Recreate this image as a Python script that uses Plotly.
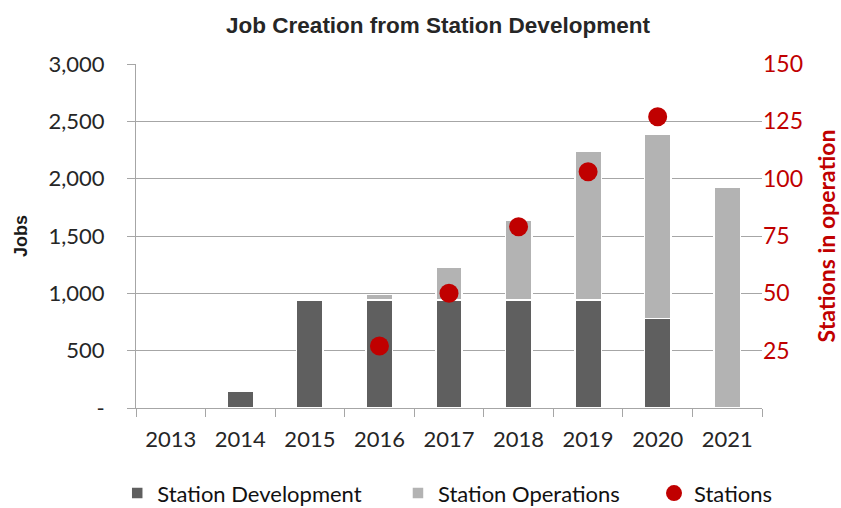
import plotly.graph_objects as go

years = ["2013", "2014", "2015", "2016", "2017", "2018", "2019", "2020", "2021"]
station_development = [0, 150, 940, 940, 940, 940, 940, 780, 0]
station_operations = [0, 0, 0, 50, 290, 700, 1295, 1605, 1925]
station_years = ["2016", "2017", "2018", "2019", "2020"]
stations = [27, 50, 79, 103, 127]

jobs_ticks = [0, 500, 1000, 1500, 2000, 2500, 3000]
jobs_tick_text = ["-", "500", "1,000", "1,500", "2,000", "2,500", "3,000"]
station_ticks = [25, 50, 75, 100, 125, 150]

DARK = "#5f5f5f"
LIGHT = "#b3b3b3"
RED = "#c00000"
GRID = "#a6a6a6"
TEXT = "#262626"
FONT = "Lato"

fig = go.Figure()
fig.add_trace(go.Bar(
    x=years, y=station_development, name="Station Development", legend="legend",
    marker=dict(color=DARK, line=dict(color="white", width=1.5)),
))
fig.add_trace(go.Bar(
    x=years, y=station_operations, name="Station Operations", legend="legend2",
    marker=dict(color=LIGHT, line=dict(color="white", width=1.5)),
))
fig.add_trace(go.Scatter(
    x=station_years, y=stations, name="Stations", yaxis="y2", legend="legend3",
    mode="markers", marker=dict(color=RED, size=19),
))

legend_common = dict(
    orientation="h", yanchor="middle", y=-0.248, xanchor="left",
    bgcolor="rgba(0,0,0,0)",
    font=dict(family=FONT, size=22, color="#111111"),
)

fig.update_layout(
    width=841, height=508,
    margin=dict(l=136, r=79, t=64, b=100, autoexpand=False),
    paper_bgcolor="white", plot_bgcolor="white",
    barmode="stack", bargap=0.62,
    title=dict(
        text="<b>Job Creation from Station Development</b>",
        x=438 / 841, xanchor="center", y=1 - 25 / 508, yanchor="middle",
        font=dict(family="Liberation Sans", size=22.5, color=TEXT),
    ),
    font=dict(family=FONT, size=20, color=TEXT),
    xaxis=dict(
        type="category", tickson="boundaries", automargin=False,
        ticks="outside", ticklen=8, tickcolor=GRID, tickwidth=1,
        showline=True, linecolor=GRID, linewidth=1,
        showgrid=False, ticklabelstandoff=12,
        tickfont=dict(family=FONT, size=22, color=TEXT),
    ),
    yaxis=dict(
        range=[0, 3000], tickvals=jobs_ticks, ticktext=jobs_tick_text,
        automargin=False,
        showgrid=True, gridcolor=GRID, gridwidth=1,
        ticks="outside", ticklen=8, tickcolor=GRID,
        showline=True, linecolor=GRID, linewidth=1,
        zeroline=False, ticklabelstandoff=18,
        tickfont=dict(family=FONT, size=22, color=TEXT),
        title=dict(text="<b>Jobs</b>", standoff=16,
                   font=dict(family="Liberation Sans", size=18, color="#1a1a1a")),
    ),
    yaxis2=dict(
        overlaying="y", side="right", range=[0, 150], automargin=False,
        tickvals=station_ticks, showgrid=False, zeroline=False,
        showline=False, ticks="", ticklabelstandoff=0,
        tickfont=dict(family=FONT, size=23, color=RED),
        title=dict(text="<b>Stations in operation</b>", standoff=16,
                   font=dict(family=FONT, size=23, color=RED)),
    ),
    legend=dict(legend_common, x=-0.03),
    legend2=dict(legend_common, x=0.4185),
    legend3=dict(legend_common, x=0.8275),
    showlegend=True,
)

fig.write_html("out.html")
